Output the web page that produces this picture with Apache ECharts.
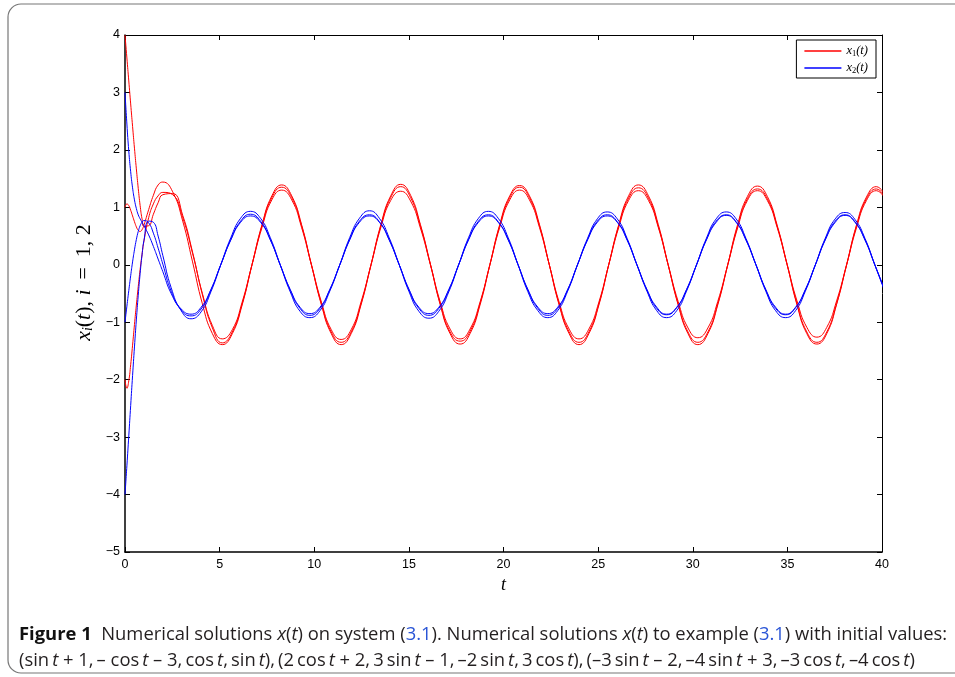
<!DOCTYPE html>
<html>
<head>
<meta charset="utf-8">
<script src="https://cdn.jsdelivr.net/npm/echarts@6/dist/echarts.min.js"></script>
<style>
html,body{margin:0;padding:0;background:#fff;}
#chart{width:955px;height:677px;}
</style>
</head>
<body>
<div id="chart"></div>
<script>
// sample times for the red curves x1(t)
const tRed = [0,0.1,0.2,0.3,0.4,0.5,0.6,0.7,0.8,0.9,1,1.25,1.5,1.75,
  2.00,2.52,3.05,3.57,4.09,4.62,5.14,5.67,6.19,6.71,7.24,7.76,8.28,8.81,9.33,9.85,10.38,10.90,11.42,11.95,12.47,13.00,13.52,14.04,14.57,15.09,15.61,16.14,16.66,17.18,17.71,18.23,18.76,19.28,19.80,20.33,20.85,21.37,21.90,22.42,22.94,23.47,23.99,24.51,25.04,25.56,26.09,26.61,27.13,27.66,28.18,28.70,29.23,29.75,30.27,30.80,31.32,31.85,32.37,32.89,33.42,33.94,34.46,34.99,35.51,36.03,36.56,37.08,37.60,38.13,38.65,39.18,39.70,40.22];

// sample times for the blue curves x2(t)
const tBlue = [0,0.1,0.2,0.3,0.4,0.5,0.6,0.7,0.8,0.9,1,1.25,1.5,1.75,2,
  2.44,2.97,3.49,4.02,4.54,5.06,5.59,6.11,6.63,7.16,7.68,8.20,8.73,9.25,9.77,10.30,10.82,11.35,11.87,12.39,12.92,13.44,13.96,14.49,15.01,15.53,16.06,16.58,17.11,17.63,18.15,18.68,19.20,19.72,20.25,20.77,21.29,21.82,22.34,22.86,23.39,23.91,24.44,24.96,25.48,26.01,26.53,27.05,27.58,28.10,28.62,29.15,29.67,30.20,30.72,31.24,31.77,32.29,32.81,33.34,33.86,34.38,34.91,35.43,35.95,36.48,37.00,37.53,38.05,38.57,39.10,39.62,40.14];

// x1(t), three initial values (red)
const x1_a = [1.00,1.06,1.03,0.95,0.85,0.75,0.66,0.60,0.58,0.61,0.69,0.96,1.21,1.39,
  1.44,1.27,0.76,0.05,-0.68,-1.20,-1.39,-1.20,-0.70,0.00,0.70,1.20,
  1.39,1.20,0.70,0.00,-0.70,-1.20,-1.39,-1.20,-0.70,0.00,0.70,1.20,
  1.40,1.21,0.70,0.01,-0.70,-1.20,-1.38,-1.20,-0.70,0.00,0.70,1.20,
  1.38,1.20,0.70,0.00,-0.70,-1.20,-1.39,-1.20,-0.70,0.00,0.70,1.20,
  1.39,1.20,0.70,0.00,-0.70,-1.20,-1.39,-1.20,-0.70,0.00,0.70,1.19,
  1.37,1.19,0.69,0.00,-0.70,-1.20,-1.38,-1.20,-0.69,0.00,0.69,1.18,
  1.36,1.18];
const x1_b = [4.00,3.60,3.20,2.80,2.41,2.03,1.67,1.33,1.03,0.80,0.67,0.68,0.88,1.08,
  1.22,1.24,0.86,0.22,-0.52,-1.10,-1.36,-1.17,-0.68,0.00,0.68,1.17,
  1.35,1.17,0.68,0.00,-0.68,-1.17,-1.35,-1.17,-0.68,0.00,0.68,1.17,
  1.36,1.17,0.68,0.00,-0.68,-1.17,-1.33,-1.16,-0.67,0.00,0.68,1.17,
  1.35,1.17,0.68,0.00,-0.68,-1.17,-1.35,-1.17,-0.68,0.00,0.68,1.16,
  1.34,1.16,0.67,0.00,-0.68,-1.17,-1.35,-1.17,-0.68,0.00,0.67,1.15,
  1.32,1.15,0.67,0.00,-0.68,-1.17,-1.35,-1.17,-0.68,0.00,0.67,1.15,
  1.32,1.15];
const x1_c = [-2.00,-2.15,-2.02,-1.74,-1.40,-1.04,-0.70,-0.38,-0.08,0.18,0.41,0.82,1.06,1.20,
  1.26,1.22,0.82,0.20,-0.50,-1.06,-1.29,-1.13,-0.65,0.00,0.65,1.13,
  1.30,1.13,0.65,0.00,-0.65,-1.13,-1.30,-1.13,-0.65,0.00,0.65,1.12,
  1.28,1.11,0.64,0.00,-0.65,-1.12,-1.29,-1.12,-0.65,0.00,0.65,1.13,
  1.30,1.13,0.65,0.00,-0.65,-1.12,-1.29,-1.12,-0.65,0.00,0.65,1.12,
  1.29,1.12,0.65,0.00,-0.64,-1.10,-1.27,-1.10,-0.64,0.00,0.64,1.12,
  1.29,1.12,0.65,0.00,-0.63,-1.09,-1.26,-1.09,-0.63,0.00,0.64,1.12,
  1.29,1.12];

// x2(t), three initial values (blue)
const x2_a = [-4.00,-3.50,-2.98,-2.45,-1.93,-1.43,-0.96,-0.53,-0.15,0.17,0.42,0.76,0.74,0.50,0.16,
  -0.40,-0.80,-0.94,-0.82,-0.47,0.00,0.47,0.81,
  0.93,0.81,0.47,0.00,-0.47,-0.81,-0.92,-0.80,-0.46,0.00,0.47,0.81,
  0.94,0.81,0.47,0.00,-0.47,-0.81,-0.93,-0.81,-0.47,0.00,0.47,0.81,
  0.93,0.81,0.47,0.00,-0.47,-0.80,-0.92,-0.80,-0.46,0.00,0.46,0.80,
  0.92,0.80,0.46,0.00,-0.46,-0.80,-0.92,-0.80,-0.46,0.00,0.46,0.80,
  0.92,0.80,0.46,0.00,-0.46,-0.80,-0.92,-0.80,-0.46,0.00,0.46,0.80,
  0.91,0.79,0.46,0.00,-0.46];
const x2_b = [-1.00,-0.72,-0.45,-0.19,0.05,0.26,0.44,0.58,0.68,0.74,0.77,0.73,0.55,0.29,0.01,
  -0.46,-0.79,-0.89,-0.77,-0.44,0.00,0.44,0.76,
  0.88,0.76,0.44,0.00,-0.44,-0.76,-0.88,-0.76,-0.44,0.00,0.44,0.76,
  0.87,0.75,0.44,0.00,-0.44,-0.76,-0.88,-0.76,-0.44,0.00,0.44,0.76,
  0.87,0.75,0.44,0.00,-0.44,-0.76,-0.88,-0.76,-0.44,0.00,0.44,0.76,
  0.87,0.75,0.44,0.00,-0.44,-0.76,-0.87,-0.75,-0.44,0.00,0.44,0.76,
  0.87,0.75,0.44,0.00,-0.44,-0.76,-0.87,-0.75,-0.44,0.00,0.44,0.76,
  0.87,0.75,0.44,0.00,-0.44];
const x2_c = [3.00,2.45,1.98,1.62,1.34,1.13,0.98,0.87,0.80,0.74,0.68,0.52,0.32,0.10,-0.12,
  -0.50,-0.77,-0.86,-0.74,-0.43,0.00,0.43,0.74,
  0.85,0.74,0.43,0.00,-0.43,-0.74,-0.85,-0.74,-0.43,0.00,0.43,0.74,
  0.85,0.74,0.43,0.00,-0.43,-0.74,-0.85,-0.74,-0.43,0.00,0.43,0.74,
  0.85,0.74,0.43,0.00,-0.43,-0.74,-0.85,-0.74,-0.43,0.00,0.43,0.74,
  0.85,0.74,0.43,0.00,-0.43,-0.74,-0.86,-0.74,-0.43,0.00,0.43,0.74,
  0.86,0.74,0.43,0.00,-0.43,-0.74,-0.86,-0.74,-0.43,0.00,0.43,0.74,
  0.86,0.74,0.43,0.00,-0.43];

const legendNames = ['x1(t)', 'x2(t)'];
const xRange = [0, 40, 5];
const yRange = [-5, 4, 1];

const chart = echarts.init(document.getElementById('chart'), null, {renderer: 'canvas'});
const pair = (ts, arr) => ts.map((tv, i) => [tv, arr[i]]);
const mkLine = (name, ts, arr, color) => ({
  name: name, type: 'line', data: pair(ts, arr), showSymbol: false, symbol: 'none',
  smooth: true, clip: true, lineStyle: {color: color, width: 1}, itemStyle: {color: color},
  xAxisIndex: 0, yAxisIndex: 0, silent: true, z: 3
});
const minus = v => (v < 0 ? '\u2212' + (-v) : String(v));
const tickFont = {fontFamily: 'Liberation Sans', fontSize: 12.5, color: '#000'};
const serifIt = {fontFamily: 'Liberation Serif', fontStyle: 'italic', color: '#000'};
const serifUp = {fontFamily: 'Liberation Serif', color: '#000'};

const capBase = {fontFamily: 'Open Sans', fontSize: 18.4, fill: '#231f20', lineHeight: 26};
const S = '\u2009', D = '\u2013';
const it = s => '{it|' + s + '}', n = s => '{n|' + s + '}';
const cap1 = '{b|Figure 1}' + n('  Numerical solutions ') + it('x') + n('(') + it('t') + n(') on system (') + '{lk|3.1}' +
  n('). Numerical solutions ') + it('x') + n('(') + it('t') + n(') to example (') + '{lk|3.1}' + n(') with initial values:');
const cap2 =
  n('(sin' + S) + it('t') + n(' + 1,' + S + D + ' cos' + S) + it('t') + n(' ' + D + ' 3,' + S + 'cos' + S) + it('t') + n(',' + S + 'sin' + S) + it('t') + n('),' + S +
  '(2' + S + 'cos' + S) + it('t') + n(' + 2,' + S + '3' + S + 'sin' + S) + it('t') + n(' ' + D + ' 1,' + S + D + '2' + S + 'sin' + S) + it('t') + n(',' + S + '3' + S + 'cos' + S) + it('t') + n('),' + S +
  '(' + D + '3' + S + 'sin' + S) + it('t') + n(' ' + D + ' 2,' + S + D + '4' + S + 'sin' + S) + it('t') + n(' + 3,' + S + D + '3' + S + 'cos' + S) + it('t') + n(',' + S + D + '4' + S + 'cos' + S) + it('t') + n(')');

const option = {
  animation: false,
  backgroundColor: '#fff',
  grid: {left: 125, right: 73, top: 35, bottom: 125},
  legend: {
    data: legendNames, orient: 'vertical', right: 79, top: 40,
    backgroundColor: '#fff', borderColor: '#000', borderWidth: 1, borderRadius: 0,
    padding: [4, 8, 3, 8], itemGap: 3, itemWidth: 37, itemHeight: 1.3, icon: 'rect',
    selectedMode: false, z: 10,
    formatter: nm => nm === 'x1(t)' ? '{v|x}{s|1}{v|(t)}' : '{v|x}{s|2}{v|(t)}',
    textStyle: {rich: {
      v: Object.assign({fontSize: 12.5, lineHeight: 14}, serifIt),
      s: Object.assign({fontSize: 8.5, lineHeight: 14, verticalAlign: 'bottom', padding: [5, 0, 0, 0]}, serifUp)
    }}
  },
  xAxis: [{
    type: 'value', min: xRange[0], max: xRange[1], interval: xRange[2], position: 'bottom',
    axisLine: {show: true, onZero: false, lineStyle: {color: '#000', width: 1.5}},
    axisTick: {show: true, inside: true, length: 5, lineStyle: {color: '#000'}},
    axisLabel: Object.assign({margin: 6}, tickFont),
    splitLine: {show: false},
    name: 't', nameLocation: 'middle', nameGap: 16,
    nameTextStyle: Object.assign({fontSize: 18}, serifIt)
  }, {
    type: 'value', min: xRange[0], max: xRange[1], interval: xRange[2], position: 'top',
    axisLine: {show: true, onZero: false, lineStyle: {color: '#000', width: 1}},
    axisTick: {show: true, inside: true, length: 5, lineStyle: {color: '#000'}},
    axisLabel: {show: false}, splitLine: {show: false}
  }],
  yAxis: [{
    type: 'value', min: yRange[0], max: yRange[1], interval: yRange[2], position: 'left',
    axisLine: {show: true, onZero: false, lineStyle: {color: '#000', width: 1.5}},
    axisTick: {show: true, inside: true, length: 5, lineStyle: {color: '#000'}},
    axisLabel: Object.assign({margin: 5, formatter: minus}, tickFont),
    splitLine: {show: false},
    name: '{v|x}{s|i}{u|(}{v|t}{u|), }{v|i}{u|\u2009 = \u20091, 2}', nameLocation: 'middle', nameGap: 16, nameRotate: 90,
    nameTextStyle: {padding: [0, 0, 0, 22], rich: {
      v: Object.assign({fontSize: 22, lineHeight: 22}, serifIt),
      u: Object.assign({fontSize: 22, lineHeight: 22}, serifUp),
      s: Object.assign({fontSize: 14, lineHeight: 22, verticalAlign: 'bottom', padding: [7, 0, 0, 0]}, serifIt)
    }}
  }, {
    type: 'value', min: yRange[0], max: yRange[1], interval: yRange[2], position: 'right',
    axisLine: {show: true, onZero: false, lineStyle: {color: '#000', width: 1}},
    axisTick: {show: true, inside: true, length: 5, lineStyle: {color: '#000'}},
    axisLabel: {show: false}, splitLine: {show: false}
  }],
  series: [
    mkLine('x1(t)', tRed, x1_a, '#ff0000'),
    mkLine('x1(t)', tRed, x1_b, '#ff0000'),
    mkLine('x1(t)', tRed, x1_c, '#ff0000'),
    mkLine('x2(t)', tBlue, x2_a, '#0000ff'),
    mkLine('x2(t)', tBlue, x2_b, '#0000ff'),
    mkLine('x2(t)', tBlue, x2_c, '#0000ff')
  ],
  graphic: [{
    type: 'rect', silent: true, z: -1,
    shape: {x: 8, y: 4, width: 1000, height: 669, r: 13},
    style: {fill: 'none', stroke: '#777', lineWidth: 1.2}
  }, {
    type: 'text', left: 19, top: 626, silent: true,
    style: {
      text: cap1 + '\n' + cap2,
      rich: {
        b: Object.assign({}, capBase, {fontWeight: 'bold', fill: '#111'}),
        n: Object.assign({}, capBase),
        it: Object.assign({}, capBase, {fontStyle: 'italic'}),
        lk: Object.assign({}, capBase, {fill: '#2a55d6'})
      }
    }
  }]
};
chart.setOption(option);
</script>
</body>
</html>
